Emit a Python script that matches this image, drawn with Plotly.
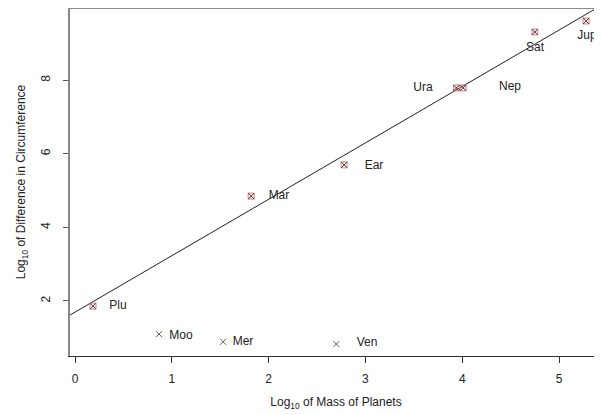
import plotly.graph_objects as go

planets = ["Plu", "Moo", "Mer", "Ven", "Mar", "Ear", "Ura", "Nep", "Sat", "Jup"]
log_mass = [0.186, 0.868, 1.53, 2.70, 1.82, 2.78, 3.94, 4.01, 4.75, 5.28]
log_circ = [1.86, 1.10, 0.89, 0.83, 4.85, 5.70, 7.79, 7.79, 9.31, 9.61]
in_fit = [True, False, False, False, True, True, True, True, True, True]
label_x = [0.444, 1.095, 1.736, 3.017, 2.107, 3.089, 3.595, 4.494, 4.752, 5.289]
label_y = [1.86, 1.05, 0.89, 0.86, 4.85, 5.67, 7.79, 7.81, 8.87, 9.20]
fit_intercept = 1.697
fit_slope = 1.533
x_ticks = [0, 1, 2, 3, 4, 5]
y_ticks = [2, 4, 6, 8]

x_range = [-0.0517, 5.444]
y_range = [0.505, 9.962]

FONT = "Liberation Sans, Arial, sans-serif"

fig = go.Figure()

# regression line
line_x = [x_range[0], x_range[1]]
line_y = [fit_intercept + fit_slope * v for v in line_x]
fig.add_trace(go.Scatter(x=line_x, y=line_y, mode="lines",
                         line=dict(color="#222222", width=1), hoverinfo="skip",
                         showlegend=False, cliponaxis=True))

# red boxed markers for points used in fit
fx = [x for x, f in zip(log_mass, in_fit) if f]
fy = [y for y, f in zip(log_circ, in_fit) if f]
fig.add_trace(go.Scatter(x=fx, y=fy, mode="markers",
                         marker=dict(symbol="square-x-open", size=6,
                                     color="#d47f7f", line=dict(width=1, color="#d47f7f")),
                         showlegend=False))

# black x for all points
fig.add_trace(go.Scatter(x=log_mass, y=log_circ, mode="markers",
                         marker=dict(symbol="x-thin-open", size=6, color="#333333",
                                     line=dict(width=0.8, color="#333333")),
                         showlegend=False))

# labels
fig.add_trace(go.Scatter(x=label_x, y=label_y, mode="text", text=planets,
                         textposition="middle center", cliponaxis=False,
                         textfont=dict(family=FONT, size=12, color="#222222"),
                         showlegend=False))

# the page body has an 8px margin, so the figure is 8px smaller and margins shifted
fig.update_layout(
    width=594, height=407,
    margin=dict(l=62, r=0, t=0, b=59),
    paper_bgcolor="white", plot_bgcolor="white",
    font=dict(family=FONT, size=12, color="#222222"),
    xaxis=dict(range=x_range, tickvals=x_ticks, ticks="outside", ticklen=6,
               tickcolor="#333333", showgrid=False, zeroline=False,
               showline=True, linecolor="#333333", linewidth=1,
               ticklabelstandoff=6,
               title=dict(text="Log<sub>10</sub> of Mass of Planets", standoff=12,
                          font=dict(size=12)),
               tickfont=dict(size=12)),
    yaxis=dict(range=y_range, tickvals=y_ticks, ticks="outside", ticklen=5,
               tickcolor="#555555", showgrid=False, zeroline=False,
               showline=True, linecolor="#888888", linewidth=2,
               tickangle=-90, ticklabelstandoff=8,
               title=dict(text="Log<sub>10</sub> of Difference in Circumference", standoff=11,
                          font=dict(size=12)),
               tickfont=dict(size=12)),
    shapes=[dict(type="line", xref="paper", yref="paper", x0=0, x1=1, y0=1, y1=1,
                 line=dict(color="#888888", width=2))],
)

fig.write_html("out.html")
